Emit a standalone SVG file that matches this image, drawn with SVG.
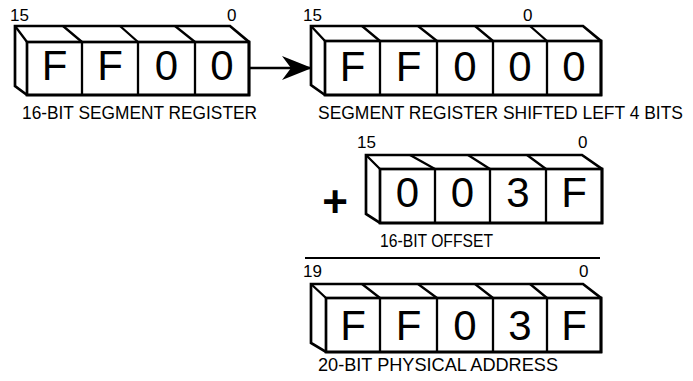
<svg xmlns="http://www.w3.org/2000/svg" width="693" height="381" viewBox="0 0 693 381">
<style>
.box{fill:none;stroke:#000;stroke-width:2.7;stroke-linejoin:miter}
.ln{fill:none;stroke:#000;stroke-width:2.3}
.cell{font-family:"Liberation Sans",Arial,sans-serif;font-size:42px;text-anchor:middle;fill:#000}
.bit{font-family:"Liberation Sans",Arial,sans-serif;font-size:17px;fill:#000}
.cap{font-family:"Liberation Sans",Arial,sans-serif;font-size:18px;fill:#000}
</style>
<defs>
<marker id="ah" markerUnits="userSpaceOnUse" markerWidth="34" markerHeight="28" refX="31" refY="13" orient="auto">
<path d="M31,13 L1,1 L10,13 L1,25 Z" fill="#000"/>
</marker>
</defs>
<rect width="693" height="381" fill="#fff"/>

<g id="segment-register">
<polygon class="box" points="15,26 230,26 249,42 249,95 27,95 15,86"/>
<rect class="box" x="27" y="42" width="222" height="53"/>
<path class="ln" d="M27,42 L15,26 M63,26 L82,42 M120,26 L138,42 M175,26 L195,42 M82,42 V95 M138,42 V95 M195,42 V95"/>
<text class="cell" x="54.5" y="80">F</text>
<text class="cell" x="110" y="80">F</text>
<text class="cell" x="166.5" y="80">0</text>
<text class="cell" x="222" y="80">0</text>
<text class="bit" x="10" y="21">15</text>
<text class="bit" x="227" y="21">0</text>
<text class="cap" x="22" y="119" textLength="235" lengthAdjust="spacingAndGlyphs">16-BIT SEGMENT REGISTER</text>
</g>

<g id="shifted-register">
<polygon class="box" points="311,26 583,26 601,41 601,95 325,95 311,85"/>
<rect class="box" x="325" y="41" width="276" height="54"/>
<path class="ln" d="M325,41 L311,26 M362,26 L380,41 M418,26 L437,41 M475,26 L493,41 M530,26 L547,41 M380,41 V95 M437,41 V95 M493,41 V95 M547,41 V95"/>
<text class="cell" x="352.5" y="81">F</text>
<text class="cell" x="408.5" y="81">F</text>
<text class="cell" x="465" y="81">0</text>
<text class="cell" x="520" y="81">0</text>
<text class="cell" x="574" y="81">0</text>
<text class="bit" x="303" y="21">15</text>
<text class="bit" x="523" y="21">0</text>
<text class="cap" x="318" y="119" font-size="17.4" textLength="365" lengthAdjust="spacingAndGlyphs">SEGMENT REGISTER SHIFTED LEFT 4 BITS</text>
</g>

<g id="offset-register">
<polygon class="box" points="366,155 582,155 602,169 602,223 380,223 366,214"/>
<rect class="box" x="380" y="169" width="222" height="54"/>
<path class="ln" d="M380,169 L366,155 M410,155 L435,169 M468,155 L490,169 M527,155 L546,169 M435,169 V223 M490,169 V223 M546,169 V223"/>
<text class="cell" x="407.5" y="207">0</text>
<text class="cell" x="462.5" y="207">0</text>
<text class="cell" x="518" y="207">3</text>
<text class="cell" x="574" y="207">F</text>
<text class="bit" x="357" y="148">15</text>
<text class="bit" x="578" y="148">0</text>
<text class="cap" x="380" y="247" textLength="113" lengthAdjust="spacingAndGlyphs">16-BIT OFFSET</text>
</g>

<g id="plus">
<text x="335" y="217" font-family="'Liberation Sans',Arial,sans-serif" font-size="44" font-weight="bold" text-anchor="middle">+</text>
</g>

<g id="sum-rule">
<line x1="305" y1="258" x2="600" y2="258" stroke="#000" stroke-width="2"/>
</g>

<g id="physical-address">
<polygon class="box" points="311,284 583,284 601,298 601,352 326,352 311,343"/>
<rect class="box" x="326" y="298" width="275" height="54"/>
<path class="ln" d="M326,298 L311,284 M362,284 L380,298 M418,284 L437,298 M475,284 L493,298 M530,284 L547,298 M380,298 V352 M437,298 V352 M493,298 V352 M547,298 V352"/>
<text class="cell" x="353" y="340">F</text>
<text class="cell" x="408.5" y="340">F</text>
<text class="cell" x="465" y="340">0</text>
<text class="cell" x="520" y="340">3</text>
<text class="cell" x="574" y="340">F</text>
<text class="bit" x="303" y="277">19</text>
<text class="bit" x="579" y="277">0</text>
<text class="cap" x="318" y="371" textLength="240" lengthAdjust="spacingAndGlyphs">20-BIT PHYSICAL ADDRESS</text>
</g>

<g id="connectors">
<line x1="250" y1="68" x2="312" y2="68" stroke="#000" stroke-width="2.3" marker-end="url(#ah)"/>
</g>
</svg>
